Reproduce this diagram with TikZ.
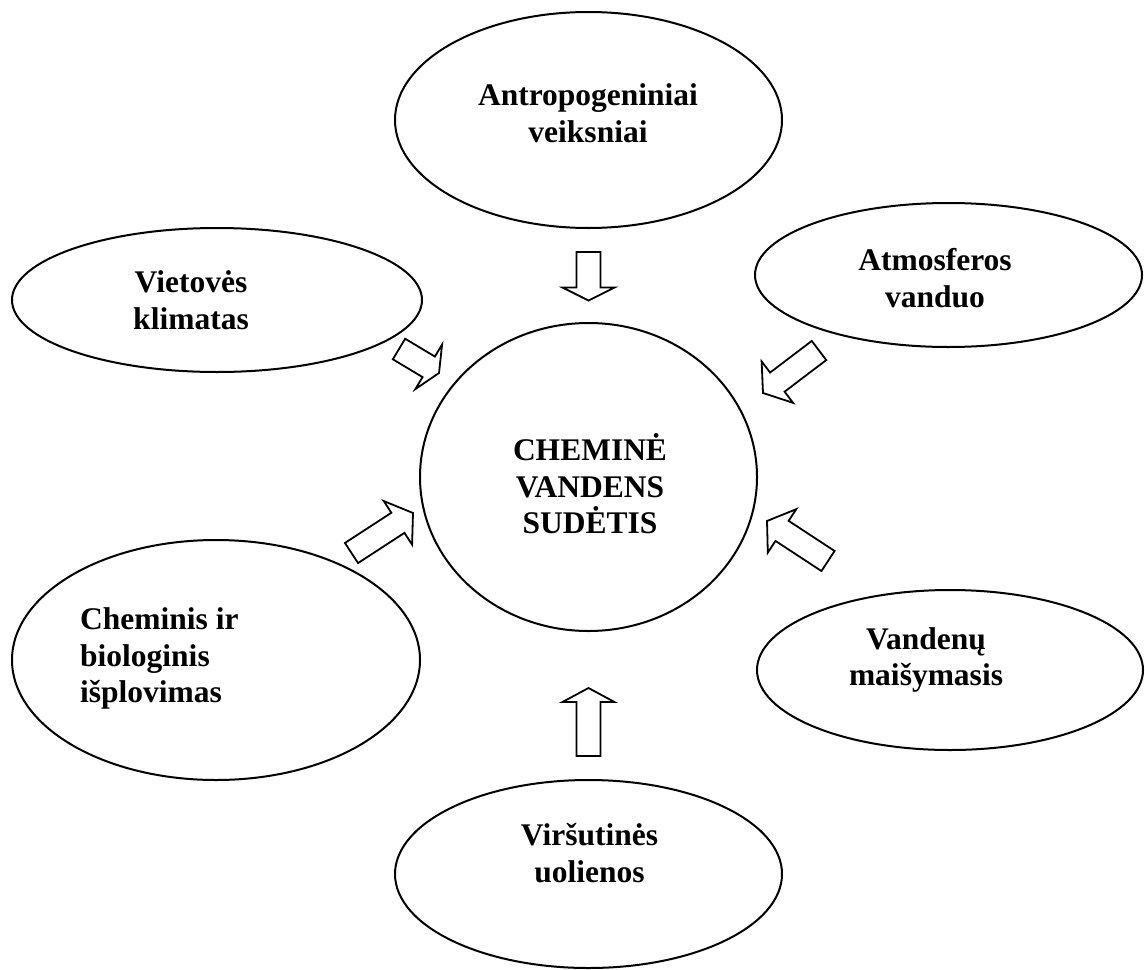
\documentclass[tikz,border=0pt]{standalone}
\usepackage{fontspec}
\setmainfont{Liberation Serif}
\usetikzlibrary{shapes.geometric,calc}

\tikzset{
  bubble/.style={ellipse, draw, line width=2pt, inner sep=0pt, outer sep=0pt},
  lbl/.style={font=\bfseries\fontsize{31.5}{36.5}\selectfont, align=center, inner sep=0pt},
  hollow/.style={draw, line width=1.8pt, line join=miter, fill=white},
}

% hollow block arrow from #1 (middle of the tail) to #2 (tip); #3 = head length
\newcommand\blkarrow[3]{%
  \coordinate (#2-base) at ($(#2)!#3!(#1)$);
  \draw[hollow] ($(#1)!12pt!90:(#2)$) -- ($(#2-base)!12pt!90:(#2)$)
    -- ($(#2-base)!26pt!90:(#2)$) -- (#2) -- ($(#2-base)!26pt!-90:(#2)$)
    -- ($(#2-base)!12pt!-90:(#2)$) -- ($(#1)!12pt!-90:(#2)$) -- cycle;
}

\begin{document}
\begin{tikzpicture}[x=1pt,y=-1pt]
\useasboundingbox (0,0) rectangle (1145,969);
\fill[white] (0,0) rectangle (1145,969);

% outer factors
\node[bubble, minimum width=387pt, minimum height=216pt] (antro) at (588.5,120) {};
\node[bubble, minimum width=410pt, minimum height=144pt] (viet) at (217,300) {};
\node[bubble, minimum width=387pt, minimum height=144pt] (atmo) at (948.5,275) {};
\node[bubble, minimum width=408pt, minimum height=240pt] (chem) at (216,660) {};
\node[bubble, minimum width=386pt, minimum height=160pt] (vand) at (950,670) {};
\node[bubble, minimum width=387pt, minimum height=188pt] (virs) at (588.5,874) {};
% central circle
\node[bubble, minimum width=337pt, minimum height=308pt] (chemsud) at (588.5,477) {};

% texts
\node[lbl] (antro-t) at (588,113) {Antropogeniniai\\veiksniai};
\node[lbl] (viet-t) at (191,300) {Vietovės\\klimatas};
\node[lbl] (atmo-t) at (935,278) {Atmosferos\\vanduo};
\node[lbl, align=left, anchor=west] (chem-t) at (80,658.5) {Cheminis ir\\biologinis\\išplovimas};
\node[lbl] (vand-t) at (926,660) {Vandenų\\maišymasis};
\node[lbl] (virs-t) at (589.5,853) {Viršutinės\\uolienos};
\node[lbl] (chemsud-t) at (590,484) {CHEMINĖ\\VANDENS\\SUDĖTIS};

% arrow tails and tips
\coordinate (a1t) at (588.5,252);  \coordinate (a1h) at (588.5,300.5);
\coordinate (a2t) at (399,349);    \coordinate (a2h) at (439,373);
\coordinate (a3t) at (819,350.5);  \coordinate (a3h) at (763,393);
\coordinate (a4t) at (351.5,553);  \coordinate (a4h) at (413,513);
\coordinate (a5t) at (828,561);    \coordinate (a5h) at (767,521);
\coordinate (a6t) at (588.5,756);  \coordinate (a6h) at (588.5,688);

\blkarrow{a1t}{a1h}{13pt}
\blkarrow{a2t}{a2h}{12pt}
\blkarrow{a3t}{a3h}{18pt}
\blkarrow{a4t}{a4h}{18pt}
\blkarrow{a5t}{a5h}{18pt}
\blkarrow{a6t}{a6h}{14pt}
\end{tikzpicture}
\end{document}
